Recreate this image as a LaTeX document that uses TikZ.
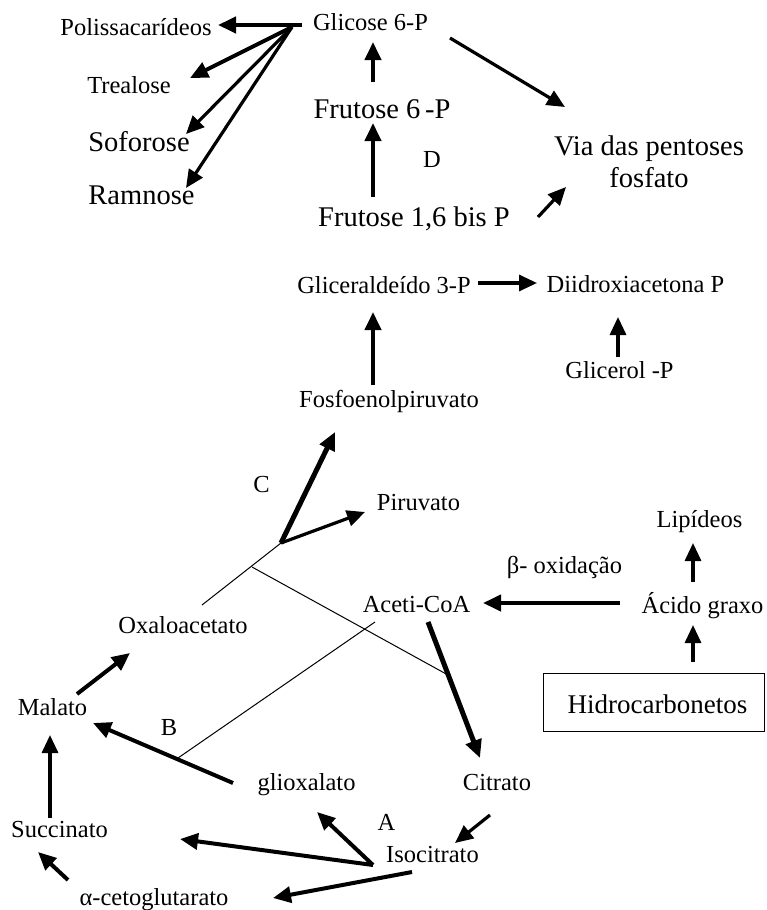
\documentclass[tikz,border=0pt]{standalone}
\usepackage{fontspec}
\setmainfont{Liberation Serif}
\usetikzlibrary{arrows.meta}
\begin{document}
\begin{tikzpicture}[x=1pt,y=-1pt,
  lbl/.style={font=\fontsize{24.5}{28}\selectfont, inner sep=0pt, anchor=base},
  big/.style={font=\fontsize{28.5}{32}\selectfont, inner sep=0pt, anchor=base},
  tip/.style={-{Triangle[length=18pt,width=16pt]}},
  arrA/.style={tip, line width=4pt},
  arrB/.style={tip, line width=5pt},
  arrC/.style={tip, line width=3.2pt},
  thinline/.style={line width=1pt}]
\useasboundingbox (0,0) rectangle (766,910);

% ---- nodes ----
\node[lbl] (glic) at (370.5,30) {Glicose 6-P};
\node[lbl] (polis) at (136,35) {Polissacarídeos};
\node[lbl] (trea) at (129,93) {Trealose};
\node[big] (sofo) at (139,151) {Soforose};
\node[big] (ramn) at (141.5,204) {Ramnose};
\node[big] (frut6) at (382,118) {Frutose 6\,-P};
\node[lbl] (labD) at (432,167) {D};
\node[big] (frut16) at (414,226) {Frutose 1,6 bis P};
\node[big] (via) at (649,155) {Via das pentoses};
\node[big] (viab) at (649,187) {fosfato};
\node[lbl] (glicer) at (384,293) {Gliceraldeído 3-P};
\node[lbl] (diid) at (635.5,292) {Diidroxiacetona P};
\node[lbl] (glicerol) at (619.5,378) {Glicerol -P};
\node[lbl] (fosfo) at (389,407) {Fosfoenolpiruvato};
\node[lbl] (labC) at (261.5,492) {C};
\node[lbl] (piru) at (418.5,510) {Piruvato};
\node[lbl] (lipi) at (699.5,527) {Lipídeos};
\node[lbl] (beta) at (564.5,573) {β- oxidação};
\node[lbl] (aceti) at (416.5,612) {Aceti-CoA};
\node[lbl] (acido) at (702.5,613) {Ácido graxo};
\node[lbl] (oxalo) at (183,633) {Oxaloacetato};
\node[draw, line width=1.2pt, inner sep=0pt, anchor=north west,
      minimum width=221pt, minimum height=58pt] (hcbox) at (543,673) {};
\node[font=\fontsize{27}{31}\selectfont, inner sep=0pt, anchor=base] (hc) at (657.5,713) {Hidrocarbonetos};
\node[lbl] (mala) at (52.5,715) {Malato};
\node[lbl] (labB) at (169,735) {B};
\node[lbl] (glio) at (306.5,790) {glioxalato};
\node[lbl] (citr) at (497,790) {Citrato};
\node[lbl] (labA) at (386.5,830) {A};
\node[lbl] (succ) at (59.5,837) {Succinato};
\node[lbl] (isoc) at (432.5,862) {Isocitrato};
\node[lbl] (alfa) at (154,905) {α-cetoglutarato};

% ---- connector end points ----
\coordinate (gsrc) at (292,27);
\coordinate (gsrcH) at (302,25);
\coordinate (tPolis) at (218,25);
\coordinate (tTrea) at (190,78);
\coordinate (tSofo) at (186,134);
\coordinate (tRamn) at (186,188);
\coordinate (f6a) at (373,82);
\coordinate (f6b) at (373,42);
\coordinate (f16a) at (373,197);
\coordinate (f16b) at (373,123);
\coordinate (gva) at (450,38);
\coordinate (gvb) at (565,107);
\coordinate (fva) at (538,217);
\coordinate (fvb) at (566,187);
\coordinate (gda) at (478,283);
\coordinate (gdb) at (537,283);
\coordinate (fga) at (373,385);
\coordinate (fgb) at (373,312);
\coordinate (gla) at (618,357);
\coordinate (glb) at (618,317);
\coordinate (P) at (281,543);
\coordinate (tFosfo) at (335,432);
\coordinate (tPiru) at (365,512);
\coordinate (oxEnd) at (202,605);
\coordinate (J) at (252,567);
\coordinate (K) at (448,675);
\coordinate (bStart) at (375,622);
\coordinate (bEnd) at (178,758);
\coordinate (aca) at (620,603);
\coordinate (acb) at (483,603);
\coordinate (ala) at (693,582);
\coordinate (alb) at (693,543);
\coordinate (hca) at (693,662);
\coordinate (hcb) at (693,625);
\coordinate (cia) at (428,622);
\coordinate (cib) at (480,758);
\coordinate (cisa) at (490,815);
\coordinate (cisb) at (455,843);
\coordinate (isrc) at (373,865);
\coordinate (tGlio) at (317,812);
\coordinate (tSucc) at (180,839);
\coordinate (isrc2) at (412,872);
\coordinate (tAlfa) at (273,898);
\coordinate (asa) at (68,880);
\coordinate (asb) at (38,852);
\coordinate (sma) at (50,818);
\coordinate (smb) at (50,735);
\coordinate (gma) at (233,783);
\coordinate (gmb) at (93,723);
\coordinate (moa) at (77,694);
\coordinate (mob) at (130,653);

% ---- connectors ----
\draw[arrA] (gsrcH) -- (tPolis);
\draw[arrA] (gsrc) -- (tTrea);
\draw[arrC] (gsrc) -- (tSofo);
\draw[arrC] (gsrc) -- (tRamn);
\draw[arrA] (f6a) -- (f6b);
\draw[arrA] (f16a) -- (f16b);
\draw[arrC] (gva) -- (gvb);
\draw[arrC] (fva) -- (fvb);
\draw[arrC] (gda) -- (gdb);
\draw[arrA] (fga) -- (fgb);
\draw[arrC] (gla) -- (glb);
\draw[arrB] (P) -- (tFosfo);
\draw[arrC] (P) -- (tPiru);
\draw[thinline] (P) -- (oxEnd);
\draw[thinline] (J) -- (K);
\draw[thinline] (bStart) -- (bEnd);
\draw[arrA] (aca) -- (acb);
\draw[arrC] (ala) -- (alb);
\draw[arrC] (hca) -- (hcb);
\draw[arrB] (cia) -- (cib);
\draw[arrC] (cisa) -- (cisb);
\draw[arrA] (isrc) -- (tGlio);
\draw[arrA] (isrc) -- (tSucc);
\draw[arrA] (isrc2) -- (tAlfa);
\draw[arrA] (asa) -- (asb);
\draw[arrC] (sma) -- (smb);
\draw[arrA] (gma) -- (gmb);
\draw[arrA] (moa) -- (mob);
\end{tikzpicture}
\end{document}
